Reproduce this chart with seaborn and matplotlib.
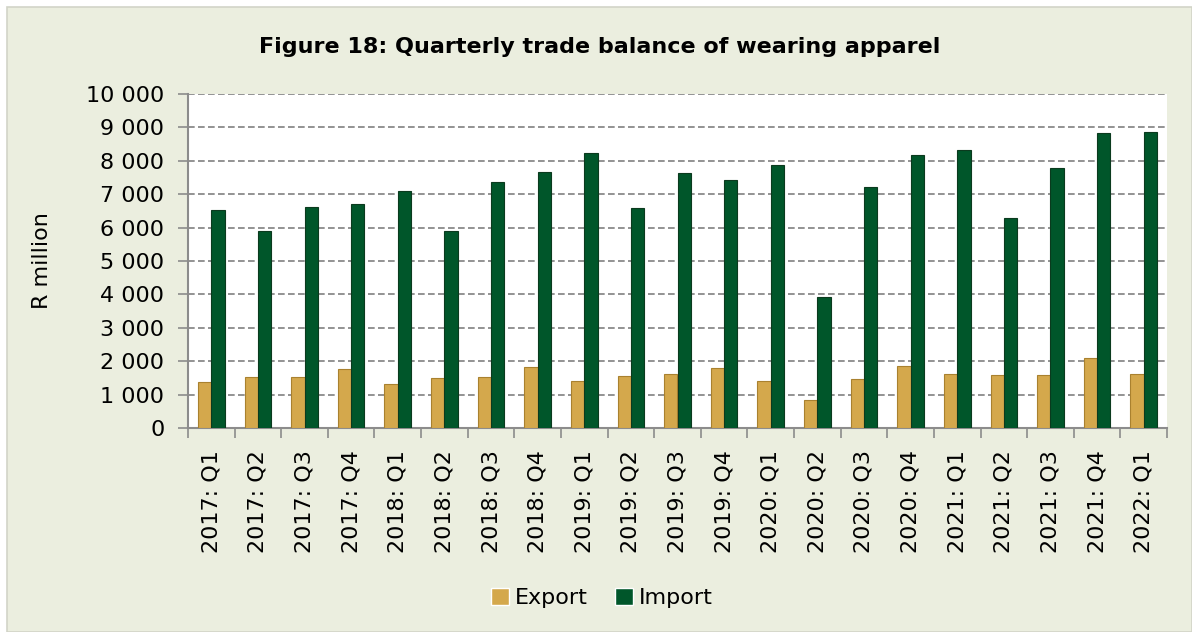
import numpy as np
import pandas as pd
import matplotlib
matplotlib.use("Agg")
import matplotlib.pyplot as plt
from matplotlib.ticker import FuncFormatter, FixedLocator
from matplotlib.patches import Rectangle
import seaborn as sns

# Data (R million)
quarters = ["2017: Q1", "2017: Q2", "2017: Q3", "2017: Q4",
            "2018: Q1", "2018: Q2", "2018: Q3", "2018: Q4",
            "2019: Q1", "2019: Q2", "2019: Q3", "2019: Q4",
            "2020: Q1", "2020: Q2", "2020: Q3", "2020: Q4",
            "2021: Q1", "2021: Q2", "2021: Q3", "2021: Q4",
            "2022: Q1"]
export_vals = [1370, 1520, 1520, 1760, 1310, 1500, 1540, 1820, 1400, 1550, 1630,
               1810, 1410, 830, 1470, 1850, 1620, 1590, 1590, 2100, 1620]
import_vals = [6530, 5910, 6610, 6720, 7100, 5890, 7380, 7650, 8230, 6600, 7640,
               7430, 7860, 3910, 7220, 8170, 8320, 6290, 7790, 8820, 8870]
series = ["Export", "Import"]
y_ticks = list(range(0, 10001, 1000))

df = pd.DataFrame({
    "quarter": quarters * 2,
    "series": ["Export"] * len(quarters) + ["Import"] * len(quarters),
    "value": export_vals + import_vals,
})

bg = "#EBEEDF"
colors = {"Export": "#D4A84C", "Import": "#00562A"}
edges = {"Export": "#A9812F", "Import": "#0B3A1E"}

sns.set_style("white")
plt.rcParams["font.family"] = ["DejaVu Sans"]
plt.rcParams["text.color"] = "black"
plt.rcParams["axes.labelcolor"] = "black"
plt.rcParams["xtick.labelcolor"] = "black"
plt.rcParams["ytick.labelcolor"] = "black"

fig = plt.figure(figsize=(11.92, 6.32), dpi=100, facecolor="white")
# panel with a soft frame
fig.patches.append(Rectangle((7 / 1192, 0), 1 - 7 / 1192, 1 - 7 / 632,
                             transform=fig.transFigure, facecolor=bg,
                             edgecolor="#D2D4C8", linewidth=1.2, zorder=-10))

ax = fig.add_axes([188 / 1192, 1 - 428 / 632, (1167 - 188) / 1192, (428 - 94) / 632])
ax.set_facecolor("white")

sns.barplot(data=df, x="quarter", y="value", hue="series", order=quarters,
            hue_order=series, palette=colors, width=0.572, gap=0,
            saturation=1, ax=ax, zorder=3)

for cont, s in zip(ax.containers, series):
    for bar in cont:
        bar.set_edgecolor(edges[s])
        bar.set_linewidth(0.8)

ax.set_ylim(0, 10000)
ax.set_xlim(-0.5, len(quarters) - 0.5)
ax.yaxis.set_major_locator(FixedLocator(y_ticks))
ax.yaxis.set_major_formatter(FuncFormatter(lambda v, p: f"{int(v):,}".replace(",", " ")))
ax.grid(axis="y", color="#808080", linestyle=(0, (4, 2)), linewidth=1.2, zorder=0)
ax.set_axisbelow(True)

for side in ["top", "right"]:
    ax.spines[side].set_visible(False)
for side in ["left", "bottom"]:
    ax.spines[side].set_color("#8C8C8C")
    ax.spines[side].set_linewidth(1.5)

ax.tick_params(axis="y", which="major", length=7, width=1.2, color="#8C8C8C",
               labelsize=16, pad=10, left=True)
ax.tick_params(axis="x", which="major", length=0, labelsize=16, pad=16,
               labelrotation=90)
ax.set_xticks(np.arange(-0.5, len(quarters)), minor=True)
ax.tick_params(axis="x", which="minor", length=7, width=1.2, color="#8C8C8C",
               bottom=True)

ax.set_xlabel("")
ax.set_ylabel("R million", fontsize=16)
ax.yaxis.set_label_coords(-136 / 979, 0.5)

fig.text(0.503, 1 - 47 / 632, "Figure 18: Quarterly trade balance of wearing apparel",
         ha="center", va="center", fontsize=16, fontweight="bold")

handles, labels = ax.get_legend_handles_labels()
ax.legend_.remove()
fig.legend(handles, labels, loc="center", bbox_to_anchor=(0.505, 1 - 598 / 632),
           ncol=2, frameon=False, fontsize=16, handlelength=0.8, handleheight=0.8,
           handletextpad=0.3, columnspacing=1.2)

fig.savefig("out.png", dpi=100, facecolor=fig.get_facecolor())
